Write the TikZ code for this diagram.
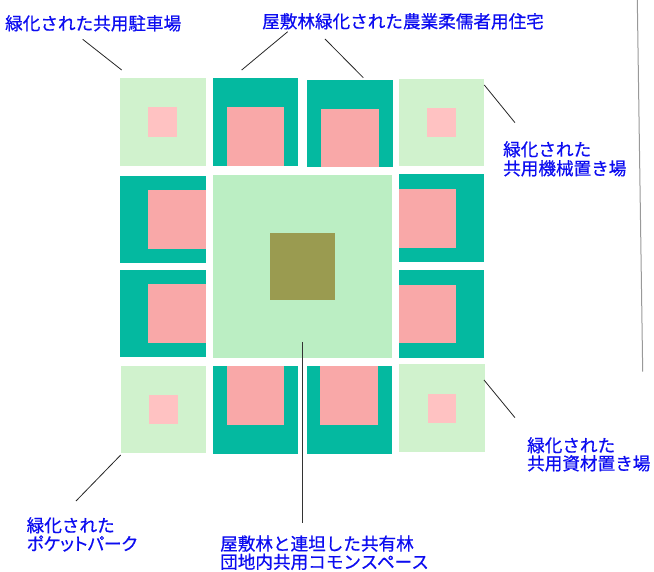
\documentclass[tikz,border=0pt]{standalone}
\usepackage{fontspec}
\setmainfont{Noto Sans CJK JP}[FakeBold=0.6]
\definecolor{housegreen}{RGB}{4,185,160}
\definecolor{housepink}{RGB}{249,168,168}
\definecolor{parkgreen}{RGB}{208,242,205}
\definecolor{parkpink}{RGB}{255,194,194}
\definecolor{commongreen}{RGB}{187,238,195}
\definecolor{olivegreen}{RGB}{154,155,80}
\definecolor{labelblue}{RGB}{12,12,240}
\tikzset{
  parkbox/.style={fill=parkgreen},
  parkcar/.style={fill=parkpink},
  housebox/.style={fill=housegreen},
  houseroof/.style={fill=housepink},
  commonbox/.style={fill=commongreen},
  forestbox/.style={fill=olivegreen},
  leader/.style={draw=black!85, line width=0.8pt},
  lbl/.style={anchor=base west, inner sep=0pt, text=labelblue, font=\fontsize{17.6}{19}\selectfont}
}
\begin{document}
\begin{tikzpicture}[x=1pt,y=-1pt]
\useasboundingbox (0,0) rectangle (654,572);
% top row
\fill[parkbox] (120,78.3) rectangle (205.5,166);
\fill[parkcar] (148.3,107.3) rectangle (177,136.7);
\fill[housebox] (212.7,78.3) rectangle (298,166);
\fill[houseroof] (226.7,107) rectangle (283.7,166);
\fill[housebox] (307.3,79.7) rectangle (392.7,167.3);
\fill[houseroof] (321.3,108.7) rectangle (378.7,167.3);
\fill[parkbox] (399,79) rectangle (484.3,166);
\fill[parkcar] (427.3,107.7) rectangle (456,137.3);
% middle rows
\fill[housebox] (120,175.7) rectangle (205.7,263);
\fill[houseroof] (148,190) rectangle (205.7,249);
\fill[housebox] (120,270) rectangle (205.7,357);
\fill[houseroof] (148,284) rectangle (205.7,343);
\fill[commonbox] (213,175) rectangle (392,358);
\fill[forestbox] (270,232.7) rectangle (335,300);
\fill[housebox] (398.7,174) rectangle (484,262);
\fill[houseroof] (398.7,189) rectangle (456,248);
\fill[housebox] (398.7,270) rectangle (484,357.7);
\fill[houseroof] (398.7,285) rectangle (456,343);
% bottom row
\fill[parkbox] (120.7,365.7) rectangle (206,452.7);
\fill[parkcar] (149,394.7) rectangle (177.7,424);
\fill[housebox] (212.7,366) rectangle (297.7,454);
\fill[houseroof] (226.7,366) rectangle (283.7,424.7);
\fill[housebox] (306.7,366) rectangle (391.7,454);
\fill[houseroof] (320.3,366) rectangle (377.7,424.7);
\fill[parkbox] (399,364) rectangle (484.7,452);
\fill[parkcar] (428,393.7) rectangle (456,423);
% labels
\node[lbl] (tParking) at (5,30) {緑化された共用駐車場};
\node[lbl] (tHouses) at (262,28) {屋敷林緑化された農業柔儒者用住宅};
\node[lbl] (tMach1) at (503,156) {緑化された};
\node[lbl] (tMach2) at (503,175) {共用機械置き場};
\node[lbl] (tMat1) at (527,452) {緑化された};
\node[lbl] (tMat2) at (527,470) {共用資材置き場};
\node[lbl] (tPocket1) at (26.5,532) {緑化された};
\node[lbl] (tPocket2) at (26.5,550.3) {\addfontfeatures{RawFeature=+palt}ポケットパーク};
\node[lbl] (tCommon1) at (220,550.3) {屋敷林と連坦した共有林};
\node[lbl] (tCommon2) at (220,568.5) {団地内共用コモンスペース};
% leader coordinates
\coordinate (a1) at (82.7,39.3);  \coordinate (b1) at (121.7,70);
\coordinate (a2) at (287.7,31.7); \coordinate (b2) at (241.7,70);
\coordinate (a3) at (325,39);     \coordinate (b3) at (363.3,77.7);
\coordinate (a4) at (484.3,85);   \coordinate (b4) at (515,122.7);
\coordinate (a5) at (484,380);    \coordinate (b5) at (515,417.7);
\coordinate (a6) at (120.7,455);  \coordinate (b6) at (76,501);
\coordinate (a7) at (302.7,342);  \coordinate (b7) at (302.7,523);
\coordinate (r1) at (637.3,0);    \coordinate (r2) at (642.7,371.7);
\draw[leader] (a1) -- (b1);
\draw[leader] (a2) -- (b2);
\draw[leader] (a3) -- (b3);
\draw[leader] (a4) -- (b4);
\draw[leader] (a5) -- (b5);
\draw[leader] (a6) -- (b6);
\draw[leader, draw=black!80, line width=1.1pt] (a7) -- (b7);
\draw[draw=black!40, line width=1pt] (r1) -- (r2);
\end{tikzpicture}
\end{document}
